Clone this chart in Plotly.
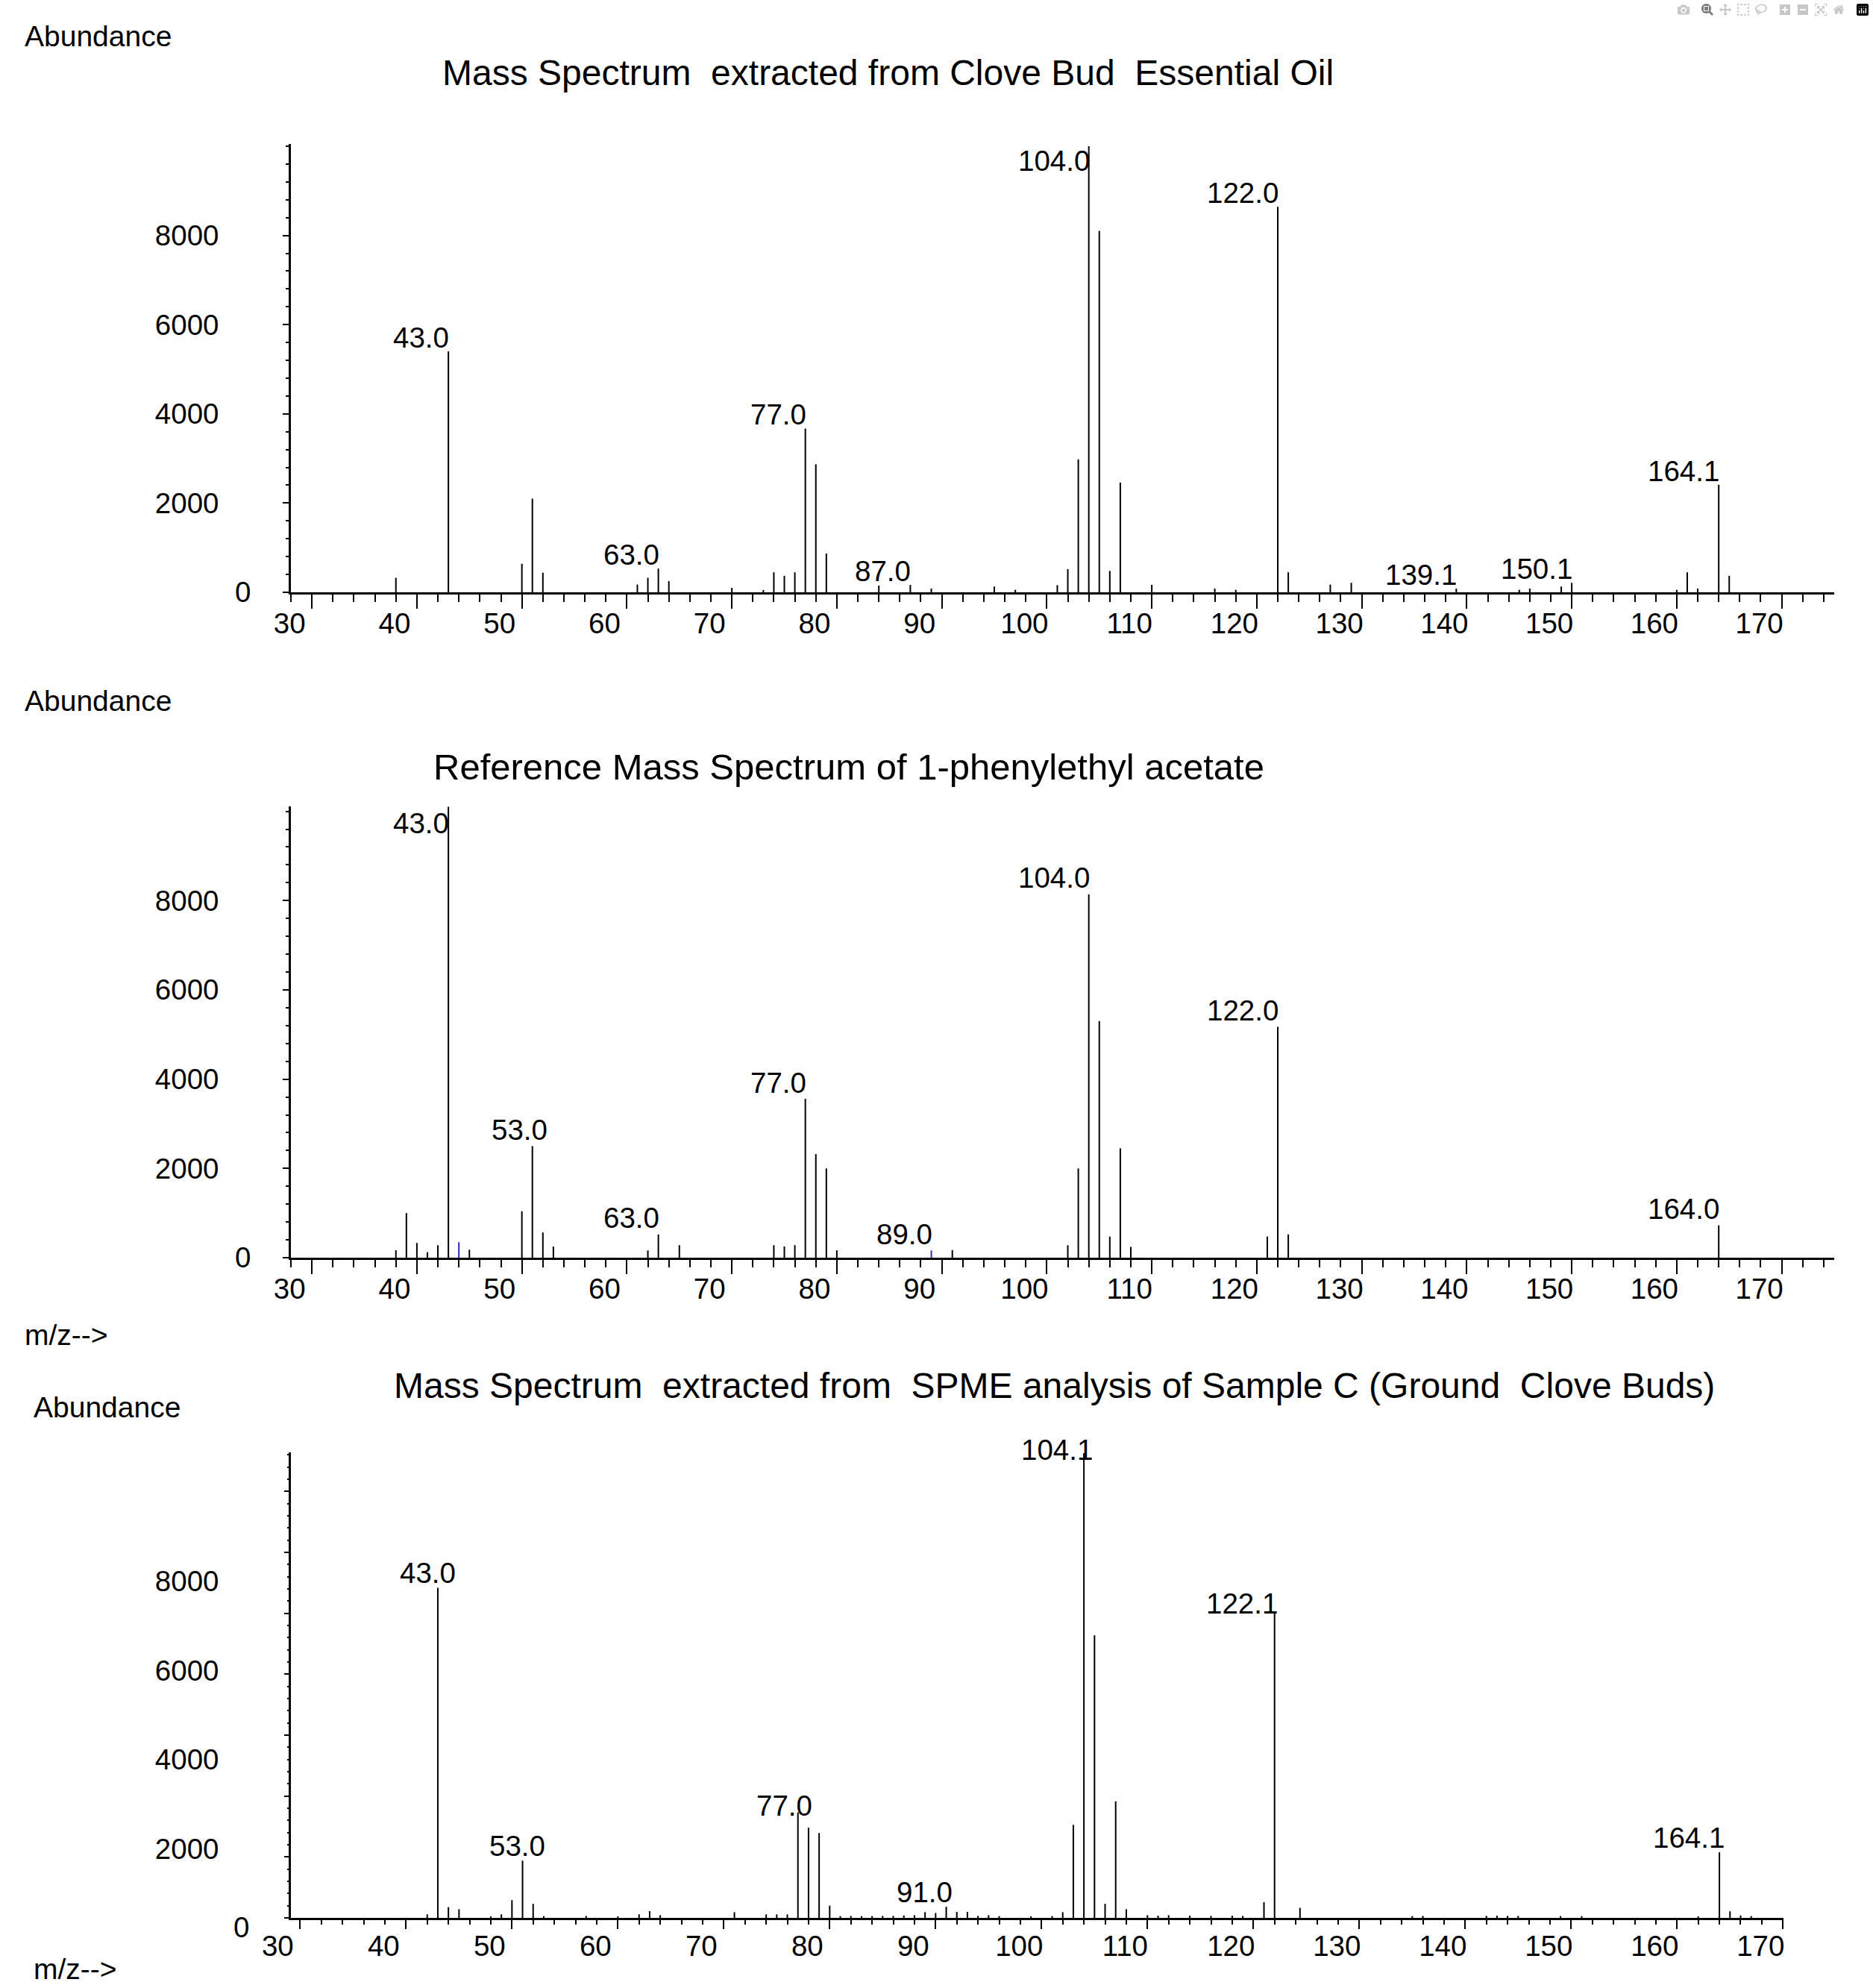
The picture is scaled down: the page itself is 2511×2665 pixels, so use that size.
import plotly.graph_objects as go

W, H = 2511, 2665
FONT = "Liberation Sans, Arial, sans-serif"

# ---------------- data (m/z, abundance) ----------------
# Panel 1: Clove Bud Essential Oil
p1_mz = [38, 43, 50, 51, 52, 61, 62, 63, 64, 70,
         73, 74, 75, 76, 77, 78, 79, 84, 87, 89,
         95, 97, 101, 102, 103, 104, 105, 106, 107, 110,
         116, 118, 122, 123, 127, 129, 139, 145, 146, 149,
         150, 160, 161, 162, 164, 165]
p1_ab = [325, 5400, 640, 2100, 440, 174, 325, 532, 252, 100,
         50, 448, 370, 448, 3670, 2870, 870, 150, 165, 84,
         129, 56, 160, 520, 2980, 10000, 8100, 480, 2460, 168,
         84, 56, 8640, 448, 174, 213, 84, 56, 84, 129,
         213, 56, 448, 84, 2410, 370]
p1_label_mz = [43, 63, 77, 87, 104, 122, 139, 150, 164]
p1_label_txt = ["43.0", "63.0", "77.0", "87.0", "104.0", "122.0", "139.1", "150.1", "164.1"]

# Panel 2: Reference spectrum of 1-phenylethyl acetate
p2_mz = [38, 39, 40, 41, 42, 43, 45, 50, 51, 52,
         53, 62, 63, 65, 74, 75, 76, 77, 78, 79,
         80, 91, 102, 103, 104, 105, 106, 107, 108, 121,
         122, 123, 164]
p2_ab = [168, 1000, 330, 123, 280, 10100, 179, 1040, 2500, 565,
         250, 162, 520, 280, 280, 252, 280, 3560, 2320, 2000,
         165, 170, 279, 2000, 8140, 5300, 474, 2450, 242, 474,
         5170, 521, 725]
p2_blue_mz = [44, 89]
p2_blue_ab = [347, 162]
p2_label_mz = [43, 51, 63, 77, 89, 104, 122, 164]
p2_label_txt = ["43.0", "53.0", "63.0", "77.0", "89.0", "104.0", "122.0", "164.0"]

# Panel 3: SPME analysis of Sample C
p3_mz = [42, 43, 44, 45, 48, 49, 50, 51, 52, 53,
         57, 60, 62, 63, 64, 71, 74, 75, 76, 77,
         78, 79, 80, 81, 82, 83, 84, 85, 86, 87,
         88, 89, 90, 91, 92, 93, 94, 95, 96, 99,
         101, 102, 103, 104, 105, 106, 107, 108, 110, 111,
         112, 114, 116, 118, 119, 121, 122, 124.4, 135, 136,
         142, 143, 144, 145, 149, 151, 162, 164, 165, 166,
         167]
p3_ab = [78, 7400, 240, 194, 33, 78, 397, 1283, 314, 40,
         45, 35, 80, 150, 60, 128, 78, 78, 78, 2363,
         2022, 1902, 275, 40, 45, 40, 40, 45, 45, 55,
         60, 130, 110, 248, 134, 134, 45, 60, 40, 35,
         40, 129, 2086, 10420, 6333, 314, 2612, 194, 60, 50,
         60, 50, 45, 50, 45, 351, 6850, 225, 40, 45,
         45, 50, 45, 45, 40, 40, 35, 1470, 148, 55,
         40]
p3_label_mz = [43, 51, 77, 91, 104, 122, 164]
p3_label_txt = ["43.0", "53.0", "77.0", "91.0", "104.1", "122.1", "164.1"]

y_tick_vals = [0, 2000, 4000, 6000, 8000]
y_tick_txt = ["0", "2000", "4000", "6000", "8000"]

titles = ["Mass Spectrum  extracted from Clove Bud  Essential Oil",
          "Reference Mass Spectrum of 1-phenylethyl acetate",
          "Mass Spectrum  extracted from  SPME analysis of Sample C (Ground  Clove Buds)"]

# ---------------- helpers ----------------
def stems(mz, ab):
    xs, ys = [], []
    for m, a in zip(mz, ab):
        xs += [m, m, None]
        ys += [0, a, None]
    return xs, ys

def px_x(p):
    return p / W

def px_y(p):
    return 1 - p / H

fig = go.Figure()
for (mz, ab, xa, ya, col) in [
    (p1_mz, p1_ab, "x", "y", "black"),
    (p2_mz, p2_ab, "x2", "y2", "black"),
    (p2_blue_mz, p2_blue_ab, "x2", "y2", "#2b2bc0"),
    (p3_mz, p3_ab, "x3", "y3", "black"),
]:
    xs, ys = stems(mz, ab)
    fig.add_trace(go.Scatter(x=xs, y=ys, mode="lines", xaxis=xa, yaxis=ya,
                             line=dict(color=col, width=2), hoverinfo="skip",
                             showlegend=False))
# helper trace for the overlay tick axis of panel 3
fig.add_trace(go.Scatter(x=[None], y=[None], xaxis="x3", yaxis="y4",
                         mode="markers", showlegend=False, hoverinfo="skip"))

NUM = 38.5
pad = "\u00a0" * 4
y_txt_padded = [t if v == 0 else t + pad for t, v in zip(y_tick_txt, y_tick_vals)]

def xaxis_def(domain, rng, anchor, major_len, minor_len, standoff):
    return dict(domain=domain, range=rng, anchor=anchor, automargin=False,
                showline=True, linecolor="black", linewidth=3,
                showgrid=False, zeroline=False,
                ticks="outside", tickmode="linear", tick0=0, dtick=10,
                ticklen=major_len, tickwidth=2, tickcolor="black",
                minor=dict(ticks="outside", tickmode="linear", tick0=0, dtick=2,
                           ticklen=minor_len, tickwidth=2, tickcolor="black"),
                tickfont=dict(family=FONT, size=NUM, color="black"),
                ticklabelshift=-30, ticklabelstandoff=standoff)

def yaxis_def(domain, rng, anchor, ticktext):
    return dict(domain=domain, range=rng, anchor=anchor, automargin=False,
                showline=True, linecolor="black", linewidth=3,
                showgrid=False, zeroline=False,
                ticks="outside", tickmode="array", tickvals=y_tick_vals,
                ticktext=ticktext, ticklen=8, tickwidth=2, tickcolor="black",
                minor=dict(ticks="outside", tickmode="linear", tick0=0, dtick=400,
                           ticklen=4, tickwidth=2, tickcolor="black"),
                tickfont=dict(family=FONT, size=NUM, color="black"),
                ticklabelstandoff=35)

xd12 = [px_x(390), px_x(2459)]
xd3 = [px_x(390), px_x(2391)]

Y3MAX = 10435
# panel 3: zero label drawn separately (it sits closer to the baseline than the others)
y3_txt = ["" if v == 0 else t for t, v in zip(y_txt_padded, y_tick_vals)]
y3 = yaxis_def([px_y(2571), px_y(1947)], [0, Y3MAX], "x3", y3_txt)
y3.update(tickcolor="rgba(0,0,0,0)", minor=dict(ticks=""), ticklabelshift=27)

fig.update_layout(
    template="none",
    width=W, height=H, margin=dict(l=0, r=0, t=0, b=0, pad=0, autoexpand=False),
    paper_bgcolor="white", plot_bgcolor="white", showlegend=False,
    font=dict(family=FONT, color="black"),
    xaxis=xaxis_def(xd12, [28, 175], "y", 19, 10, -13),
    yaxis=yaxis_def([px_y(794), px_y(193)], [0, 10050], "x", y_txt_padded),
    xaxis2=xaxis_def(xd12, [28, 175], "y2", 19, 10, -13),
    yaxis2=yaxis_def([px_y(1686), px_y(1081)], [0, 10110], "x2", y_txt_padded),
    xaxis3=xaxis_def(xd3, [29.13, 170.05], "y3", 12, 6, -10),
    yaxis3=y3,
    yaxis4=dict(overlaying="y3", anchor="x3", side="left", range=[0, Y3MAX],
                automargin=False,
                showline=False, showgrid=False, zeroline=False,
                showticklabels=False, ticks="outside", tickmode="linear",
                tick0=0, dtick=1366, ticklen=8, tickwidth=2, tickcolor="black",
                minor=dict(ticks="outside", tickmode="linear", tick0=0, dtick=273.2,
                           ticklen=4, tickwidth=2, tickcolor="black")),
)

ann = []
# titles and axis captions
for txt, cx, cy, fs in [(titles[0], 1190, 97, 48), (titles[1], 1138, 1028, 49),
                        (titles[2], 1413, 1857, 48)]:
    ann.append(dict(text=txt, x=px_x(cx), y=px_y(cy), xref="paper", yref="paper",
                    xanchor="center", yanchor="middle", showarrow=False,
                    font=dict(family=FONT, size=fs, color="black")))
for txt, lx, cy in [("Abundance", 31, 48), ("Abundance", 31, 939), ("Abundance", 43, 1886),
                    ("m/z-->", 31, 1790), ("m/z-->", 43, 2639)]:
    ann.append(dict(text=txt, x=px_x(lx), y=px_y(cy), xref="paper", yref="paper",
                    xanchor="left", yanchor="middle", showarrow=False,
                    font=dict(family=FONT, size=39, color="black")))
# zero label of panel 3
ann.append(dict(text=y_tick_txt[0], x=px_x(336), y=0, xref="paper", yref="y3",
                xanchor="right", yanchor="middle", yshift=-12, showarrow=False,
                font=dict(family=FONT, size=NUM, color="black")))

# peak labels
panels = [
    (p1_label_mz, p1_label_txt, dict(zip(p1_mz, p1_ab)), "x", "y", 9360, -4.8, {}, 3, {}),
    (p2_label_mz, p2_label_txt, {**dict(zip(p2_mz, p2_ab)), **dict(zip(p2_blue_mz, p2_blue_ab))},
     "x2", "y2", 9360, -1.6, {51: 22}, 3, {}),
    (p3_label_mz, p3_label_txt, dict(zip(p3_mz, p3_ab)), "x3", "y3", 10300, -3.6,
     {43: 26, 51: 32, 77: 21, 91: 10, 104: 14, 122: 6, 164: 9}, 10, {77: -14, 122: -12, 104: -12}),
]
for lmz, ltxt, lookup, xa, ya, clip, ysh, xsh_map, xsh_def, ysh_map in panels:
    for m, t in zip(lmz, ltxt):
        h = lookup[m]
        ann.append(dict(text=t, x=m, y=min(h, clip), xref=xa, yref=ya,
                        xanchor="right", yanchor="bottom", showarrow=False,
                        xshift=xsh_map.get(m, xsh_def), yshift=ysh_map.get(m, ysh),
                        font=dict(family=FONT, size=NUM, color="black")))
fig.update_layout(annotations=ann)

fig.write_html("out.html", post_script="document.body.style.margin='0';")
